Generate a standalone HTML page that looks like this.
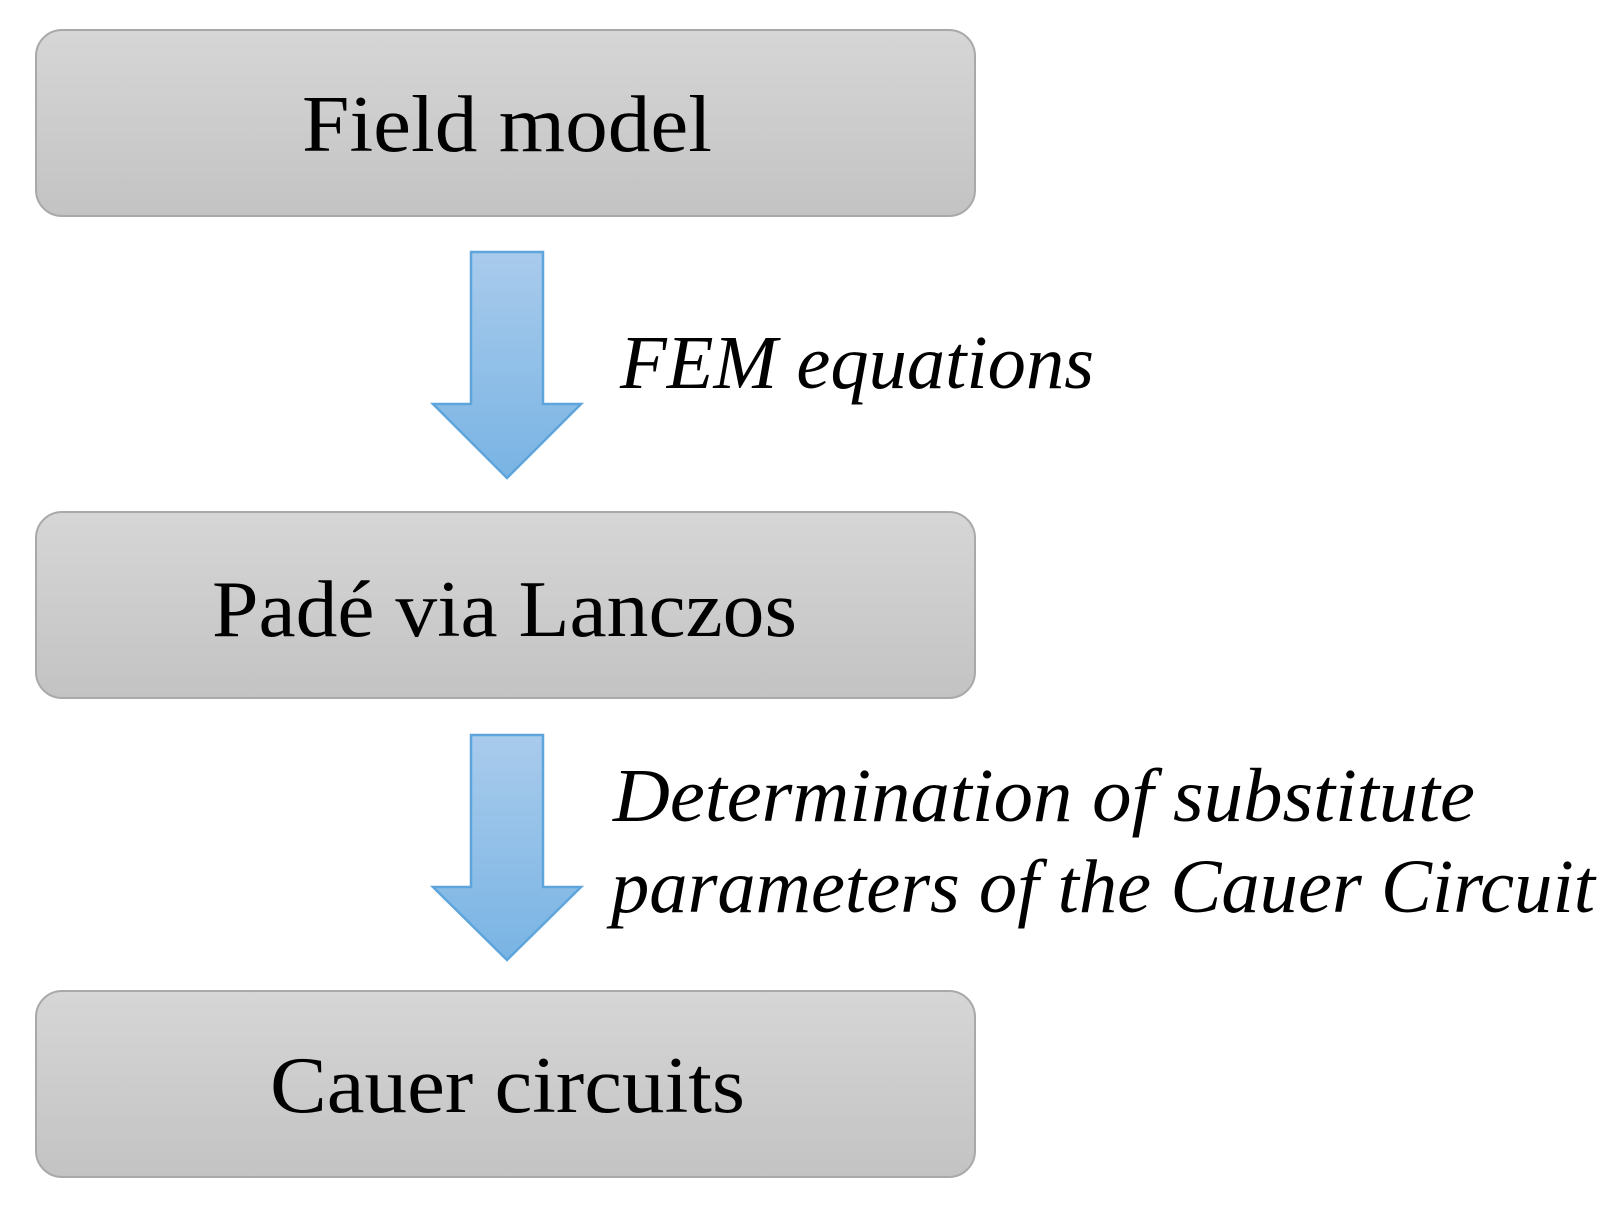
<!DOCTYPE html>
<html><head><meta charset="utf-8"><style>
html,body{margin:0;padding:0;background:#fff;}
svg{display:block;}
</style></head><body>
<svg width="1621" height="1209" viewBox="0 0 1621 1209" xmlns="http://www.w3.org/2000/svg">
<defs>
<linearGradient id="bg" x1="0" y1="0" x2="0" y2="1">
<stop offset="0" stop-color="#d6d6d6"/><stop offset="1" stop-color="#c3c3c3"/>
</linearGradient>
<linearGradient id="ag" x1="0" y1="0" x2="0" y2="1">
<stop offset="0" stop-color="#a9cbec"/><stop offset="1" stop-color="#79b4e4"/>
</linearGradient>
</defs>
<g fill="url(#bg)" stroke="#a9a9a9" stroke-width="2">
<rect x="36" y="30" width="939" height="186" rx="26"/>
<rect x="36" y="512" width="939" height="186" rx="26"/>
<rect x="36" y="991" width="939" height="186" rx="26"/>
</g>
<g fill="url(#ag)" stroke="#5ea5dc" stroke-width="2.5" stroke-linejoin="miter">
<polygon points="471,252 543,252 543,404 581,404 507,478 433,404 471,404"/>
<polygon points="471,735 543,735 543,887 581,887 507,960 433,887 471,887"/>
</g>
<g font-family="'Liberation Serif',serif" fill="#000" font-size="80">
<text x="302" y="151" textLength="410" lengthAdjust="spacingAndGlyphs">Field model</text>
<text x="212" y="636" textLength="585" lengthAdjust="spacingAndGlyphs">Padé via Lanczos</text>
<text x="270" y="1112" textLength="475" lengthAdjust="spacingAndGlyphs">Cauer circuits</text>
</g>
<g font-family="'Liberation Serif',serif" font-style="italic" fill="#000" font-size="76">
<text x="620" y="388" textLength="474" lengthAdjust="spacingAndGlyphs">FEM equations</text>
<text x="613" y="821" textLength="862" lengthAdjust="spacingAndGlyphs">Determination of substitute</text>
<text x="611" y="912" textLength="984" lengthAdjust="spacingAndGlyphs">parameters of the Cauer Circuit</text>
</g>
</svg>
</body></html>
